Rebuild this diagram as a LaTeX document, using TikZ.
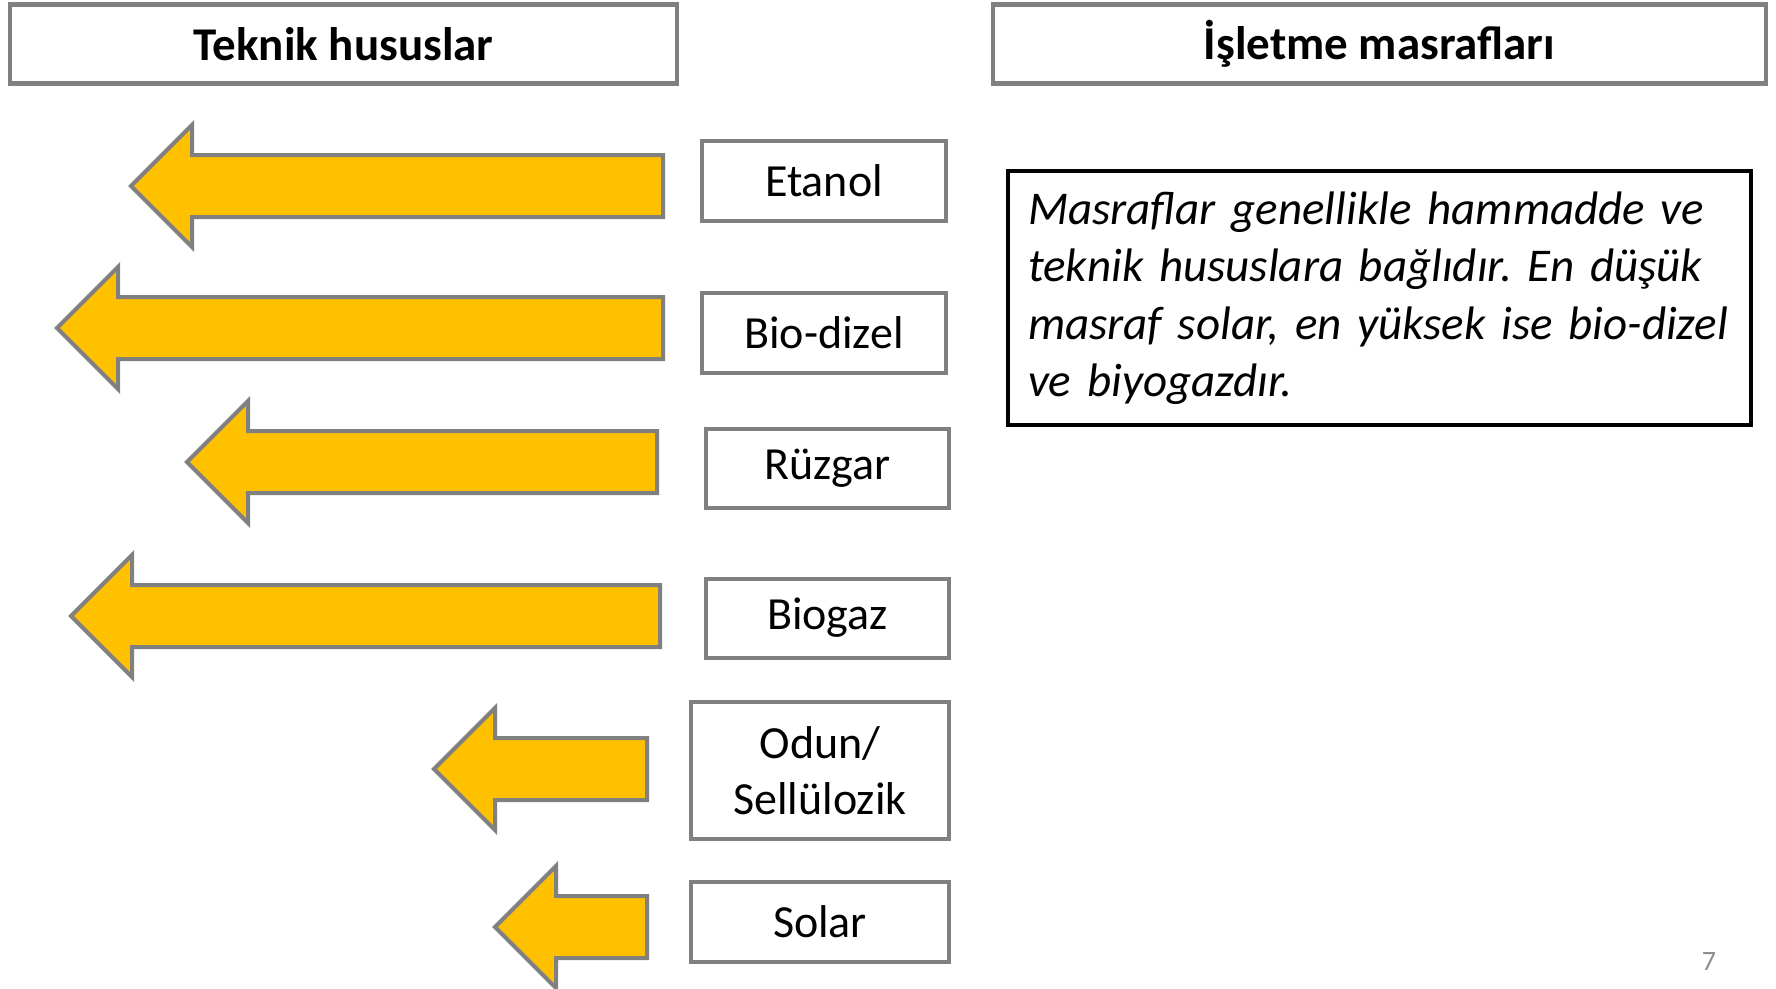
\documentclass[tikz,border=0pt]{standalone}
\usepackage{fontspec}
\setmainfont{Carlito}
\frenchspacing
\newcommand\tightspace{\fontdimen2\font=0.85\fontdimen2\font\relax}
\definecolor{boxgray}{RGB}{128,128,128}
\definecolor{arrowgold}{RGB}{255,192,0}
\tikzset{
  hdrbox/.style={draw=boxgray,line width=4.5pt,fill=white,minimum height=79pt,
    font=\fontsize{47}{56}\selectfont\bfseries},
  lblbox/.style={draw=boxgray,line width=4pt,fill=white,align=center,
    minimum width=244pt,minimum height=80pt,font=\fontsize{46}{56}\selectfont},
  notebox/.style={draw=black,line width=4pt,fill=white,inner xsep=20pt,
    text width=703pt,align=left,minimum height=254pt,
    font=\fontsize{47}{57.5}\selectfont\itshape},
  goldarrow/.style={draw=boxgray,line width=4pt,fill=arrowgold,line join=miter},
}
% block arrow pointing left: tip x, centre y, tail x
\newcommand\leftblock[3]{%
  \draw[goldarrow] (#1,#2) -- (#1+61,#2-61) -- (#1+61,#2-31) -- (#3,#2-31)
    -- (#3,#2+31) -- (#1+61,#2+31) -- (#1+61,#2+61) -- cycle;}

\begin{document}
\begin{tikzpicture}[x=1pt,y=-1pt]
  \useasboundingbox (0,0) rectangle (1776,988);
  % headers
  \node[hdrbox,minimum width=667pt] (teknik) at (343.5,44) {Teknik hususlar};
  \node[hdrbox,minimum width=773pt] (isletme) at (1379.5,44) {İşletme masrafları};
  % arrows
  \leftblock{131}{186}{663}
  \leftblock{57}{328}{663}
  \leftblock{187}{462}{657}
  \leftblock{71}{616}{660}
  \leftblock{434}{769}{647}
  \leftblock{495}{927}{647}
  % energy sources
  \node[lblbox] (etanol) at (824,181) {Etanol};
  \node[lblbox] (biodizel) at (824,333) {Bio-dizel};
  \node[lblbox,minimum width=243pt,minimum height=79pt] (ruzgar) at (827.5,468) {Rüzgar};
  \node[lblbox,minimum width=243pt,minimum height=79pt] (biogaz) at (827.5,618) {Biogaz};
  \node[lblbox,minimum width=258pt,minimum height=137pt] (odun) at (820,770.5) {Odun/\\Sellülozik};
  \node[lblbox,minimum width=258pt] (solar) at (820,922) {Solar};
  % note
  \node[notebox,minimum width=743pt] (note) at (1379.5,298)
    {\tightspace Masraflar genellikle hammadde ve\\teknik hususlara bağlıdır. En düşük\\masraf solar, en yüksek ise bio-dizel\\ve biyogazdır.\vphantom{g}};
  \node[text=boxgray!90,font=\fontsize{28}{34}\selectfont] (pageno) at (1709,962) {7};
\end{tikzpicture}
\end{document}
